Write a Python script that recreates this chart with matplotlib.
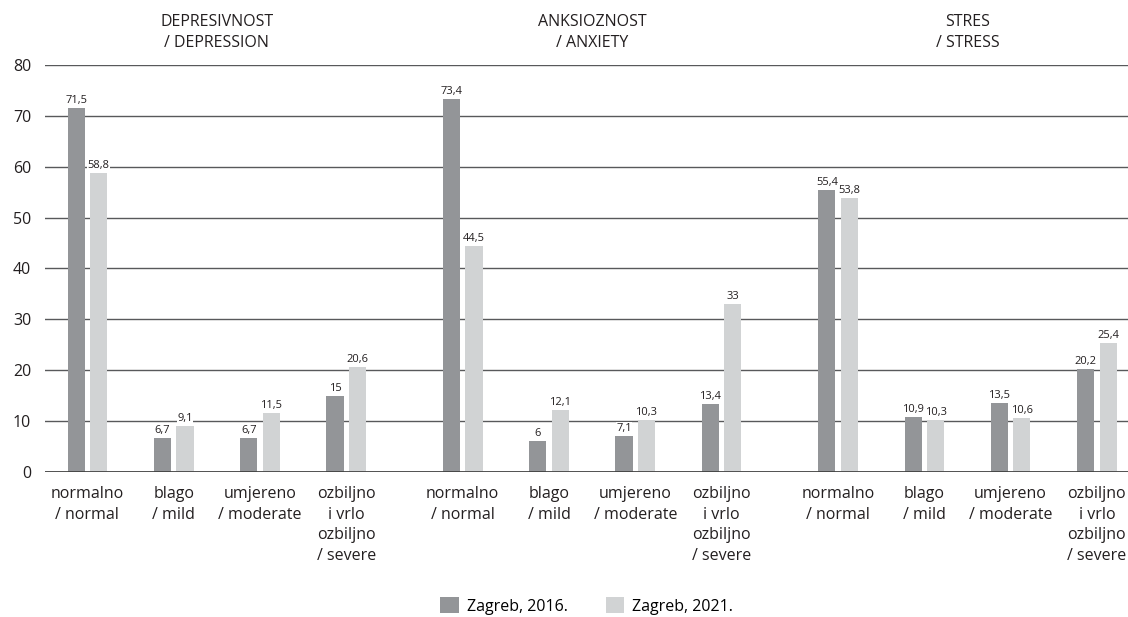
import numpy as np
import matplotlib.pyplot as plt

plt.rcParams['font.family'] = ['Open Sans', 'DejaVu Sans']

groups = ['DEPRESIVNOST\n/ DEPRESSION', 'ANKSIOZNOST\n/ ANXIETY', 'STRES\n/ STRESS']
cats = ['normalno\n/ normal', 'blago\n/ mild', 'umjereno\n/ moderate', 'ozbiljno\ni vrlo\nozbiljno\n/ severe']
z2016 = [71.5, 6.7, 6.7, 15, 73.4, 6, 7.1, 13.4, 55.4, 10.9, 13.5, 20.2]
z2021 = [58.8, 9.1, 11.5, 20.6, 44.5, 12.1, 10.3, 33, 53.8, 10.3, 10.6, 25.4]
series = ['Zagreb, 2016.', 'Zagreb, 2021.']
colors = ['#939598', '#d1d3d4']

gstep = 4.35
x = np.array([g * gstep + c for g in range(3) for c in range(4)])
w = 0.2
off = 0.13

fig = plt.figure(figsize=(11.28, 6.17), dpi=100)
ax = fig.add_axes([0.04, 0.235, 0.96, 0.6597])

for i, (vals, col) in enumerate(zip([z2016, z2021], colors)):
    xs = x + (-off if i == 0 else off)
    ax.bar(xs, vals, w, color=col, zorder=2, label=series[i])
    for xx, v in zip(xs, vals):
        ax.text(xx, v + 0.4, ('%g' % v).replace('.', ','), ha='center', va='bottom',
                fontsize=8, color='#231f20', zorder=3,
                bbox=dict(facecolor='white', edgecolor='none', pad=0.3))

ax.set_ylim(0, 80)
ax.set_xlim(-0.49, x[-1] + 0.36)
ax.set_yticks(range(0, 81, 10))
ax.yaxis.grid(True, color='#58595b', lw=1, zorder=0)
ax.set_axisbelow(True)
for s in ax.spines.values():
    s.set_visible(False)
ax.axhline(0, color='#3a3a3a', lw=1.2, zorder=4)
ax.tick_params(axis='y', length=0, labelsize=11.5, pad=10, colors='#231f20')
ax.set_xticks(x)
ax.set_xticklabels(cats * 3, fontsize=11.5, color='#231f20', va='top', linespacing=1.4)
ax.tick_params(axis='x', length=0, pad=10)

for g, name in enumerate(groups):
    ax.text(g * gstep + 1.5, 1.034, name, transform=ax.get_xaxis_transform(),
            ha='center', va='bottom', fontsize=11.5, color='#231f20', linespacing=1.4)

fig.legend(loc='center', ncol=2, frameon=False, fontsize=11.5,
           bbox_to_anchor=(0.52, 0.018), handlelength=1.15, handleheight=1.15,
           columnspacing=2.4, handletextpad=0.5)

plt.savefig('out.png', dpi=100)
